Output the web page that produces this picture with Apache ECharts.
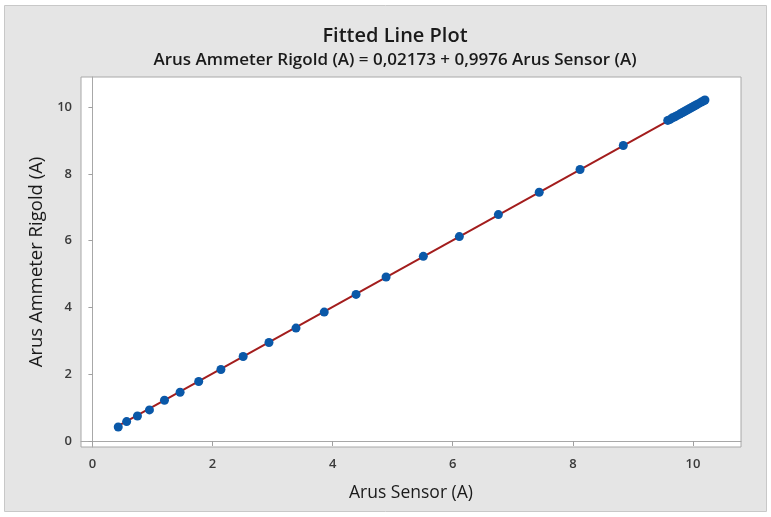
<!DOCTYPE html>
<html>
<head>
<meta charset="utf-8">
<script src="https://cdn.jsdelivr.net/npm/echarts@6/dist/echarts.min.js"></script>
<style>html,body{margin:0;padding:0;background:#fff;}#c{width:771px;height:517px;}</style>
</head>
<body>
<div id="c"></div>
<script>
// Data
const sensorX = [0.43, 0.57, 0.75, 0.95, 1.20, 1.46, 1.77, 2.14, 2.51, 2.94, 3.39, 3.86, 4.39, 4.89, 5.51, 6.11, 6.76, 7.44, 8.12, 8.84,
  9.58, 9.62, 9.66, 9.70, 9.74, 9.78, 9.82, 9.85, 9.88, 9.91, 9.94, 9.97, 10.00, 10.03, 10.06, 10.10, 10.14, 10.18, 10.20];
const ammeterY = [0.42, 0.58, 0.75, 0.93, 1.22, 1.46, 1.78, 2.14, 2.53, 2.95, 3.38, 3.86, 4.39, 4.91, 5.53, 6.12, 6.78, 7.45, 8.13, 8.85,
  9.60, 9.63, 9.68, 9.71, 9.75, 9.79, 9.83, 9.86, 9.89, 9.92, 9.95, 9.98, 10.01, 10.04, 10.07, 10.11, 10.15, 10.19, 10.21];
const xTicks = [0, 2, 4, 6, 8, 10];
const yTicks = [0, 2, 4, 6, 8, 10];
// Fitted line from the equation in the subtitle
const intercept = 0.02173;
const slope = 0.9976;
const fitX = [Math.min(...sensorX), Math.max(...sensorX)];

const points = sensorX.map((x, i) => [x, ammeterY[i]]);
const fitLine = fitX.map(x => [x, intercept + slope * x]);

const FONT = '"Open Sans", "Noto Sans", sans-serif';
const chart = echarts.init(document.getElementById('c'), null, {renderer: 'canvas'});
chart.setOption({
  backgroundColor: '#ffffff',
  animation: false,
  graphic: {
    elements: [{
      type: 'rect', z: -10, silent: true,
      shape: {x: 4.5, y: 5.5, width: 762, height: 506},
      style: {fill: '#e5e5e5', stroke: '#c8c8c8', lineWidth: 1}
    }]
  },
  title: [{
    text: 'Fitted Line Plot',
    left: 390, top: 21, textAlign: 'center',
    textStyle: {fontFamily: FONT, fontSize: 20, fontWeight: 600, color: '#1a1a1a'}
  }, {
    text: 'Arus Ammeter Rigold (A) = 0,02173 + 0,9976 Arus Sensor (A)',
    left: 390, top: 47, textAlign: 'center',
    textStyle: {fontFamily: FONT, fontSize: 17, fontWeight: 600, color: '#1a1a1a'}
  }],
  grid: {
    left: 81, top: 77, right: 30, bottom: 70,
    show: true, backgroundColor: '#ffffff', borderColor: '#a8a8a8', borderWidth: 1
  },
  xAxis: {
    type: 'value', min: -0.19, max: 10.8,
    name: 'Arus Sensor (A)', nameLocation: 'middle', nameGap: 37,
    nameTextStyle: {fontFamily: FONT, fontSize: 17.5, color: '#1a1a1a'},
    axisLine: {show: true, lineStyle: {color: '#a8a8a8'}},
    axisTick: {show: true, customValues: xTicks, length: 5, lineStyle: {color: '#a0a0a0'}},
    axisLabel: {customValues: xTicks, fontFamily: FONT, fontSize: 13, fontWeight: 600, color: '#3a3a3a', margin: 11},
    splitLine: {show: false}
  },
  yAxis: {
    type: 'value', min: -0.18, max: 10.9,
    name: 'Arus Ammeter Rigold (A)', nameLocation: 'middle', nameGap: 29,
    nameTextStyle: {fontFamily: FONT, fontSize: 18.5, color: '#1a1a1a'},
    axisLine: {show: true, lineStyle: {color: '#a8a8a8'}},
    axisTick: {show: true, customValues: yTicks, length: 4, lineStyle: {color: '#a0a0a0'}},
    axisLabel: {customValues: yTicks, fontFamily: FONT, fontSize: 13, fontWeight: 600, color: '#3a3a3a', margin: 9},
    splitLine: {show: false}
  },
  series: [{
    type: 'line', data: fitLine, symbol: 'none', z: 2,
    lineStyle: {color: '#a31d1d', width: 2}
  }, {
    type: 'scatter', data: points, symbol: 'circle', symbolSize: 9, z: 3,
    itemStyle: {color: '#0a58a8', opacity: 1}
  }]
});
</script>
</body>
</html>
